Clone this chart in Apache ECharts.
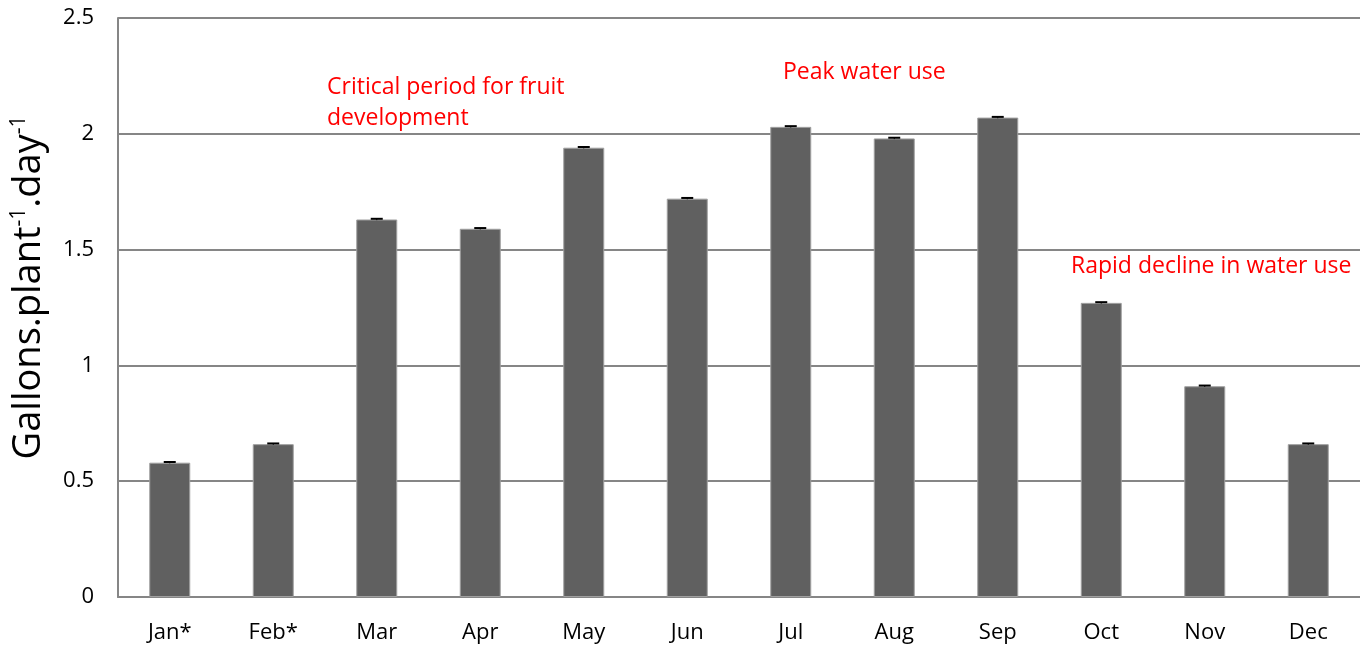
<!DOCTYPE html>
<html>
<head>
<meta charset="utf-8">
<script src="https://cdn.jsdelivr.net/npm/echarts@6/dist/echarts.min.js"></script>
<style>
  html, body { margin: 0; padding: 0; background: #fff; }
  #chart { width: 1360px; height: 645px; }
</style>
</head>
<body>
<div id="chart"></div>
<script>
const months = ['Jan*', 'Feb*', 'Mar', 'Apr', 'May', 'Jun', 'Jul', 'Aug', 'Sep', 'Oct', 'Nov', 'Dec']
const waterUse = [0.58, 0.66, 1.63, 1.59, 1.94, 1.72, 2.03, 1.98, 2.07, 1.27, 0.91, 0.66]
const errors = [0.003, 0.003, 0.003, 0.003, 0.003, 0.003, 0.003, 0.003, 0.003, 0.003, 0.003, 0.003]
const yTicks = [0, 0.5, 1, 1.5, 2, 2.5]

const font = '"Open Sans", "Noto Sans", sans-serif'
const chart = echarts.init(document.getElementById('chart'))

chart.setOption({
  animation: false,
  grid: { left: 118, right: 0, top: 18, bottom: 48, outerBoundsMode: 'none', containLabel: false },
  xAxis: {
    type: 'category',
    data: months,
    axisTick: { show: false },
    axisLine: { lineStyle: { color: '#868686', width: 2 } },
    axisLabel: { color: '#000', fontSize: 22, fontFamily: font, margin: 25 },
  },
  yAxis: {
    type: 'value',
    min: yTicks[0],
    max: yTicks[yTicks.length - 1],
    interval: 0.5,
    axisLine: { show: true, lineStyle: { color: '#868686', width: 2 } },
    axisTick: { show: false },
    splitLine: { lineStyle: { color: '#868686', width: 2 } },
    axisLabel: { color: '#000', fontSize: 22, fontFamily: font, margin: 24 },
    name: '{b|Gallons.plant}{s|-1}{b|.day}{s|-1}',
    nameLocation: 'middle',
    nameGap: 70,
    nameRotate: 90,
    nameTextStyle: {
      padding: [0, 0, 0, 40],
      rich: {
        b: { fontSize: 38, fontFamily: font, color: '#000', verticalAlign: 'bottom', lineHeight: 39 },
        s: { fontSize: 21, fontFamily: font, color: '#000', verticalAlign: 'top', lineHeight: 19 },
      },
    },
  },
  series: [
    {
      type: 'bar',
      data: waterUse,
      barWidth: 41,
      itemStyle: { color: '#606060', borderColor: '#a0a0a0', borderWidth: 1 },
    },
    {
      type: 'custom',
      data: waterUse.map((v, i) => [i, v - errors[i], v + errors[i]]),
      z: 10,
      renderItem: (params, api) => {
        const hi = api.coord([api.value(0), api.value(2)])
        const lo = api.coord([api.value(0), api.value(1)])
        const half = 6
        return {
          type: 'group',
          children: [
            { type: 'line', shape: { x1: hi[0] - half, y1: hi[1], x2: hi[0] + half, y2: hi[1] }, style: { stroke: '#000', lineWidth: 2 } },
            { type: 'line', shape: { x1: hi[0], y1: hi[1], x2: lo[0], y2: lo[1] }, style: { stroke: '#000', lineWidth: 1 } },
          ],
        }
      },
    },
  ],
  graphic: [
    { type: 'text', left: 327, top: 72, style: { text: 'Critical period for fruit\ndevelopment', fill: '#ff0000', fontSize: 23, fontFamily: font, lineHeight: 31 } },
    { type: 'text', left: 783, top: 61, style: { text: 'Peak water use', fill: '#ff0000', fontSize: 23, fontFamily: font } },
    { type: 'text', left: 1071, top: 255, style: { text: 'Rapid decline in water use', fill: '#ff0000', fontSize: 23, fontFamily: font } },
  ],
})
</script>
</body>
</html>
